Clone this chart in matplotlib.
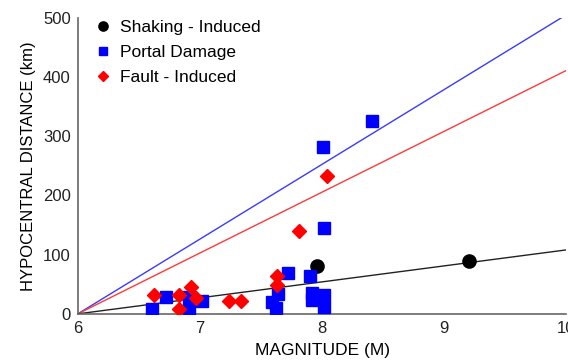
import matplotlib.pyplot as plt

plt.rcParams['font.family'] = ['Liberation Sans', 'DejaVu Sans']

# --- data ---
shaking_m = [7.96, 9.20]
shaking_d = [80, 89]

portal_m = [6.61, 6.72, 6.91, 6.91, 7.02, 7.59, 7.62, 7.64, 7.72, 7.90,
            7.92, 7.92, 8.02, 8.02, 8.02, 8.01, 8.41]
portal_d = [8, 28, 8, 28, 22, 20, 10, 33, 69, 64,
            36, 24, 32, 12, 145, 282, 325]

fault_m = [6.62, 6.83, 6.83, 6.93, 6.97, 7.24, 7.34, 7.63, 7.63, 7.81, 8.04]
fault_d = [32, 32, 9, 46, 26, 21, 21, 49, 64, 140, 233]

# fitted lines through M=6
line_m = [6, 10]
line_blue = [0, 505]
line_red = [0, 411]
line_black = [0, 108]

fig = plt.figure(figsize=(5.68, 3.62), dpi=100)
ax = fig.add_axes([0.137, 0.133, 0.860, 0.818])

ax.plot(line_m, line_blue, color='#3a3aff', lw=1.0)
ax.plot(line_m, line_red, color='#ff3a3a', lw=1.0)
ax.plot(line_m, line_black, color='#222222', lw=1.0)

ax.plot(shaking_m, shaking_d, 'o', color='black', ms=9.5, label='Shaking - Induced', zorder=3)
ax.plot(portal_m, portal_d, 's', color='#0000ff', ms=8.5, label='Portal Damage', zorder=3)
ax.plot(fault_m, fault_d, 'D', color='#ff0000', ms=7.5, label='Fault - Induced', zorder=3)

ax.set_xlim(6, 10)
ax.set_ylim(0, 500)
ax.set_xticks([6, 7, 8, 9, 10])
ax.set_yticks([0, 100, 200, 300, 400, 500])
ax.tick_params(length=0, labelsize=12, pad=5, colors='#222222')

for s in ['top', 'right']:
    ax.spines[s].set_visible(False)
for s in ['left', 'bottom']:
    ax.spines[s].set_color('#666666')
    ax.spines[s].set_linewidth(1.2)

ax.set_xlabel('MAGNITUDE (M)', fontsize=12.5, labelpad=5)
ax.set_ylabel('HYPOCENTRAL DISTANCE (km)', fontsize=12, labelpad=5)

ax.legend(loc='upper left', bbox_to_anchor=(0.005, 1.045), frameon=False,
          fontsize=12.5, markerscale=0.7, handlelength=0.8, handletextpad=0.6,
          labelspacing=0.55)

fig.savefig('out.png', dpi=100)
